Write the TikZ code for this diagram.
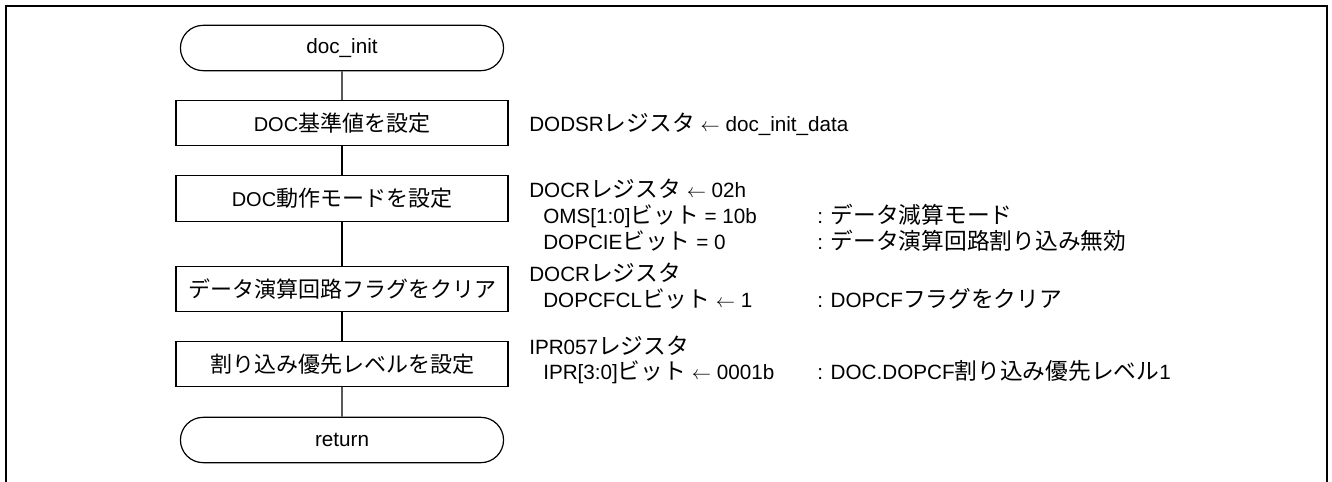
\documentclass[tikz,border=0pt]{standalone}
\usepackage{fontspec}
\setmainfont{Liberation Sans}
\newfontfamily\jpfont[Scale=1.1]{Noto Sans CJK JP}
\newcommand\jtext[1]{{\jpfont #1}}
\newcommand\larr{$\leftarrow$}
\usetikzlibrary{shapes.misc}

\tikzset{
  term/.style={draw, rounded rectangle, minimum width=249pt, minimum height=34pt,
    line width=0.9pt, font=\fontsize{15.5}{18}\selectfont},
  proc/.style={draw, rectangle, minimum width=249pt, minimum height=34pt,
    line width=0.8pt, font=\fontsize{15}{18}\selectfont},
  note/.style={anchor=base west, inner sep=0pt, font=\fontsize{15.5}{18}\selectfont},
  flow/.style={line width=0.8pt},
}

\begin{document}
\begin{tikzpicture}[x=0.75pt, y=-0.75pt]

  \newcommand\CX{342}
  \newcommand\NX{529}
  \newcommand\SX{543}
  \newcommand\MX{817}

  \useasboundingbox (0,0) rectangle (1332,482);
  \draw[line width=1.7pt] (6,490) -- (6,6) -- (1327,6) -- (1327,490);

  % flow
  \node[term] (start) at (\CX, 48) {doc\_init};
  \node[proc] (refval) at (\CX, 123) {DOC\jtext{基準値を設定}};
  \node[proc] (opmode) at (\CX, 198.5) {DOC\jtext{動作モードを設定}};
  \node[proc] (clrflag) at (\CX, 289) {\jtext{データ演算回路フラグをクリア}};
  \node[proc] (intlvl) at (\CX, 364) {\jtext{割り込み優先レベルを設定}};
  \node[term] (ret) at (\CX, 440) {return};

  \draw[flow] (start) -- (refval);
  \draw[flow] (refval) -- (opmode);
  \draw[flow] (opmode) -- (clrflag);
  \draw[flow] (clrflag) -- (intlvl);
  \draw[flow] (intlvl) -- (ret);

  % notes
  \node[note] (n1) at (\NX, 131) {DODSR\jtext{レジスタ} \larr{} doc\_init\_data};

  \node[note] (n2) at (\NX, 197) {DOCR\jtext{レジスタ} \larr{} 02h};
  \node[note] (n2a) at (\SX, 223) {OMS[1:0]\jtext{ビット} = 10b};
  \node[note] (n2b) at (\SX, 249) {DOPCIE\jtext{ビット} = 0};
  \node[note] (m2a) at (\MX, 223) {: \jtext{データ減算モード}};
  \node[note] (m2b) at (\MX, 249) {: \jtext{データ演算回路割り込み無効}};

  \node[note] (n3) at (\NX, 281) {DOCR\jtext{レジスタ}};
  \node[note] (n3a) at (\SX, 307) {DOPCFCL\jtext{ビット} \larr{} 1};
  \node[note] (m3a) at (\MX, 307) {: DOPCF\jtext{フラグをクリア}};

  \node[note] (n4) at (\NX, 354) {IPR057\jtext{レジスタ}};
  \node[note] (n4a) at (\SX, 379) {IPR[3:0]\jtext{ビット} \larr{} 0001b};
  \node[note] (m4a) at (\MX, 379) {: DOC.DOPCF\jtext{割り込み優先レベル}1};

\end{tikzpicture}
\end{document}
